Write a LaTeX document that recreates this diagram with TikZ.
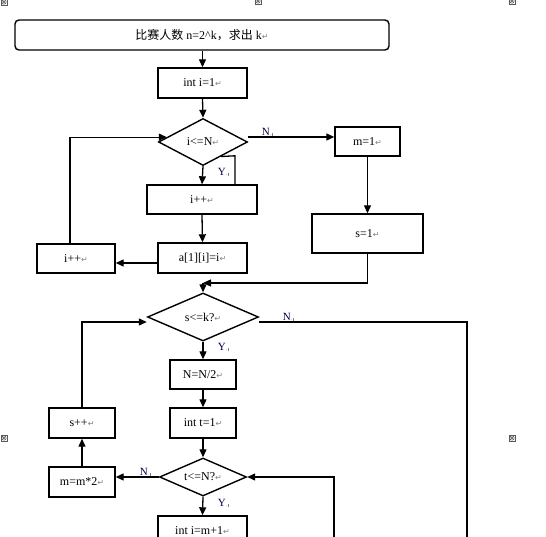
\documentclass[tikz,border=0pt]{standalone}
\usepackage{fontspec}
\setmainfont{Liberation Serif}
\newfontfamily\cjk{Noto Sans CJK SC}
\newfontfamily\dvs{DejaVu Sans}
\usetikzlibrary{shapes.geometric,arrows.meta,calc}
\newcommand\pmk{{\color{gray}\dvs\fontsize{8}{9}\selectfont ↵}}
\newcommand\lmk{{\color{gray}\fontsize{6}{7}\selectfont .\kern0.3pt\rule[0pt]{0.4pt}{3pt}}}
\tikzset{
  box/.style={draw, line width=1.4pt, rectangle, inner sep=0pt, font=\fontsize{12}{14}\selectfont},
  dia/.style={draw, line width=1.4pt, diamond, inner sep=0pt, aspect=2, font=\fontsize{12}{14}\selectfont},
  arr/.style={line width=1.3pt, -{Triangle[length=8pt,width=7pt]}},
  ln/.style={line width=1.3pt},
  lab/.style={font=\fontsize{11}{13}\selectfont, text=blue!30!black, inner sep=0pt},
  mk/.style={draw=gray!70!black, line width=0.5pt}
}
\begin{document}
\begin{tikzpicture}[x=1pt,y=-1pt]
\useasboundingbox (0,0) rectangle (546,537);
\clip (0,0) rectangle (546,537);
\fill[white] (0,0) rectangle (546,537);
% markers
\foreach \mx/\my/\nm in {4/2/ma,258/1/mb,512/1/mc,4/438/md,512/438/me}{
  \coordinate (\nm) at (\mx,\my);
  \draw[mk] ($(\nm)+(-3,-3)$) rectangle ($(\nm)+(3,3)$);
  \draw[mk] (\nm) circle[radius=2.2pt];
  \draw[mk] ($(\nm)+(-1.6,-1.6)$) -- ($(\nm)+(1.6,1.6)$) ($(\nm)+(-1.6,1.6)$) -- ($(\nm)+(1.6,-1.6)$);
}
% nodes
\node[box, rounded corners=4pt, minimum width=374pt, minimum height=30pt] (top) at (202,35) {{\cjk 比赛人数} n=2\textasciicircum k{\cjk ，求出} k\pmk};
\node[box, minimum width=89pt, minimum height=30pt] (i1) at (202.5,83) {int i=1\pmk};
\node[dia, minimum width=89pt, minimum height=47pt] (d1) at (203,142) {i<=N\pmk};
\node[box, minimum width=65pt, minimum height=29pt] (m1) at (367.5,141.5) {m=1\pmk};
\node[box, minimum width=111pt, minimum height=39pt] (s1) at (367.5,233.5) {s=1\pmk};
\node[box, minimum width=110pt, minimum height=29pt] (ipp) at (202,199.5) {i++\pmk};
\node[box, minimum width=89pt, minimum height=30pt] (a1) at (202.5,258) {a[1][i]=i\pmk};
\node[box, minimum width=78pt, minimum height=29pt] (ipl) at (76,258.5) {i++\pmk};
\node[dia, minimum width=111pt, minimum height=48pt] (d2) at (203,317) {s<=k?\pmk};
\node[box, minimum width=66pt, minimum height=29pt] (nn2) at (203,374.5) {N=N/2\pmk};
\node[box, minimum width=66pt, minimum height=30pt] (t1) at (203,423) {int t=1\pmk};
\node[box, minimum width=66pt, minimum height=30pt] (spp) at (82,423) {s++\pmk};
\node[dia, minimum width=87pt, minimum height=38pt] (d3) at (203,477) {t<=N?\pmk};
\node[box, minimum width=66pt, minimum height=30pt] (mm2) at (82,482) {m=m*2\pmk};
\node[box, minimum width=89pt, minimum height=30pt] (im1) at (202.5,531) {int i=m+1\pmk};
% labels
\node[lab] (ln1) at (267,132) {N\lmk};
\node[lab] (ly1) at (223,172) {Y\lmk};
\node[lab] (ln2) at (288,317) {N\lmk};
\node[lab] (ly2) at (223,347) {Y\lmk};
\node[lab] (ln3) at (145,472) {N\lmk};
\node[lab] (ly3) at (223,503) {Y\lmk};
% coordinates
\coordinate (j) at (203,283);
\coordinate (nEnd) at (467,545);
\coordinate (rb) at (334,545);
% connectors
\draw[arr] (top.south -| i1.north) -- (i1.north);
\draw[arr] (i1.south) -- (d1.north);
\draw[arr] ([yshift=5pt]d1.east) -- ([yshift=5pt]d1.east -| m1.west);
\draw[arr] (m1.south) -- (s1.north);
\draw[ln] ($(d1.south)!0.4!(d1.east)$) -- (235,155.8) -- (235,185);
\draw[arr] (d1.south) -- (ipp.north);
\draw[arr] (ipp.south) -- (a1.north);
\draw[arr] ([yshift=-5pt]a1.west) -- ([yshift=-5pt]a1.west -| ipl.east);
\draw[arr] ([xshift=-6pt]ipl.north) |- ($(d1.west)!0.2!(d1.north)$);
\draw[arr] (s1.south) |- (j);
\draw[arr] (j) -- (d2.north);
\draw[ln] ([yshift=-5pt]d2.east) -| (nEnd);
\draw[arr] (spp.north) |- ([yshift=-5pt]d2.west);
\draw[arr] (d2.south) -- (nn2.north);
\draw[arr] (nn2.south) -- (t1.north);
\draw[arr] (t1.south) -- (d3.north);
\draw[arr] (d3.west) -- (d3.west -| mm2.east);
\draw[arr] (mm2.north) -- (spp.south);
\draw[arr] (rb) |- (d3.east);
\draw[arr] (d3.south) -- (im1.north);
\end{tikzpicture}
\end{document}
